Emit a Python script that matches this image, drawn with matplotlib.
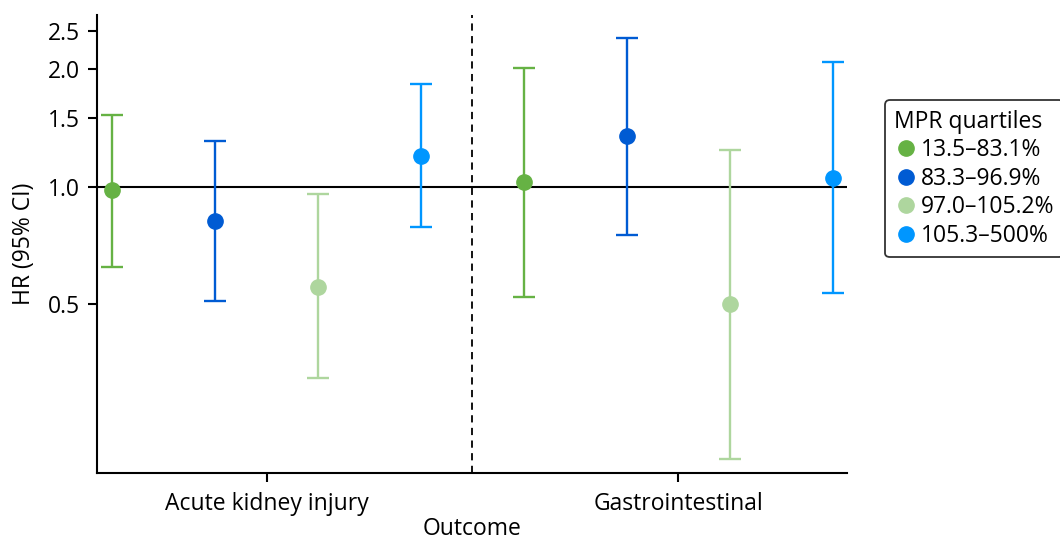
import matplotlib
matplotlib.use("Agg")
import matplotlib.pyplot as plt
from matplotlib.lines import Line2D
import numpy as np

outcomes = ["Acute kidney injury", "Gastrointestinal"]
quartiles = ["13.5–83.1%", "83.3–96.9%", "97.0–105.2%", "105.3–500%"]
colors = ["#66B244", "#005BD3", "#AED69E", "#0096FF"]

# HR and 95% CI per quartile, one value per outcome
hr = [
    [0.98, 1.025],
    [0.817, 1.347],
    [0.552, 0.501],
    [1.197, 1.053],
]
ci_low = [
    [0.623, 0.522],
    [0.509, 0.752],
    [0.3225, 0.2007],
    [0.787, 0.5345],
]
ci_high = [
    [1.527, 2.008],
    [1.308, 2.397],
    [0.955, 1.238],
    [1.83, 2.088],
]
yticks = [0.5, 1.0, 1.5, 2.0, 2.5]

plt.rcParams["font.family"] = ["Open Sans", "DejaVu Sans"]
fs = 16.5

fig = plt.figure(figsize=(10.6, 5.43), dpi=100)
ax = fig.add_axes([0.0915, 0.129, 0.708, 0.843])

x = np.arange(len(outcomes))
offsets = [-0.375, -0.125, 0.125, 0.375]

ax.axhline(1.0, color="black", lw=1.5, zorder=1)
ax.axvline(0.5, color="black", lw=1.3, ls=(0, (4, 3)), zorder=1)

for i, q in enumerate(quartiles):
    y = np.array(hr[i])
    lo = y - np.array(ci_low[i])
    hi = np.array(ci_high[i]) - y
    ax.errorbar(x + offsets[i], y, yerr=[lo, hi], fmt="o", color=colors[i],
                ms=11, elinewidth=1.7, capsize=8, capthick=1.7, zorder=3)

ax.set_yscale("log")
ax.set_ylim(0.1845, 2.75)
ax.set_xlim(-0.412, 1.411)
ax.set_yticks(yticks)
ax.set_yticklabels([f"{t:.1f}" for t in yticks])
ax.yaxis.set_minor_locator(matplotlib.ticker.NullLocator())
ax.set_xticks(x)
ax.set_xticklabels(outcomes)

for s in ["top", "right"]:
    ax.spines[s].set_visible(False)
for s in ["left", "bottom"]:
    ax.spines[s].set_linewidth(1.5)
ax.tick_params(axis="both", length=6.5, width=1.5, labelsize=fs, pad=6)
ax.tick_params(axis="x", pad=7)

ax.set_xlabel("Outcome", fontsize=fs, labelpad=1)
ax.set_ylabel("HR (95% CI)", fontsize=fs, labelpad=8)

handles = [Line2D([], [], ls="none", marker="o", ms=11, color=c) for c in colors]
leg = ax.legend(handles, quartiles, title="MPR quartiles", loc="upper left",
                bbox_to_anchor=(0.835, 0.815), bbox_transform=fig.transFigure,
                fontsize=fs, title_fontsize=fs, frameon=True, fancybox=True,
                edgecolor="black", handletextpad=0.15, handlelength=1.0,
                borderpad=0.4, labelspacing=0.2, borderaxespad=0)
leg._legend_box.align = "left"
leg.get_frame().set_linewidth(1.3)

fig.savefig("out.png", dpi=100)
